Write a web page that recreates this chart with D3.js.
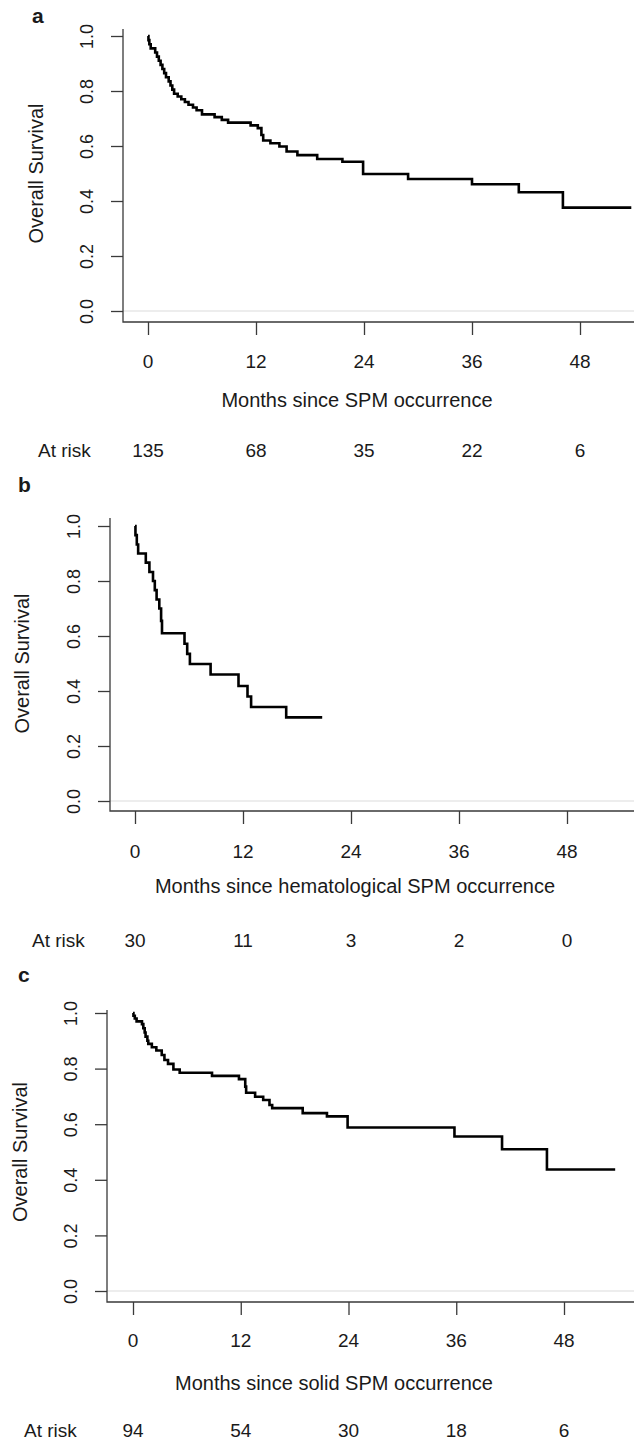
<!DOCTYPE html>
<html>
<head>
<meta charset="utf-8">
<script src="https://cdn.jsdelivr.net/npm/d3@7"></script>
<style>
  html, body { margin: 0; padding: 0; background: #fff; }
  svg { display: block; }
  text { font-family: "Liberation Sans", Arial, sans-serif; fill: #1a1a1a; }
</style>
</head>
<body>
<svg id="chart" width="634" height="1440"></svg>
<script>
// ---------------- DATA ----------------
const tickMonths = [0, 12, 24, 36, 48];
const survTicks = [0, 0.2, 0.4, 0.6, 0.8, 1.0];
const panelLetters = ["a", "b", "c"];
const yTitle = "Overall Survival";
const atRiskLabel = "At risk";
const xTitles = [
  "Months since SPM occurrence",
  "Months since hematological SPM occurrence",
  "Months since solid SPM occurrence"
];
const atRiskA = [135, 68, 35, 22, 6];
const atRiskB = [30, 11, 3, 2, 0];
const atRiskC = [94, 54, 30, 18, 6];

// Kaplan-Meier step points (month of step, survival after step); last entry = end of follow-up
const monthsA = [0, 0.05, 0.15, 0.3, 0.8, 1.0, 1.2, 1.4, 1.6, 1.8, 2.0, 2.3, 2.5, 2.7, 2.9, 3.3, 3.7, 4.1, 4.5, 5.0, 5.4, 6.0, 7.4, 8.2, 8.9, 11.4, 12.2, 12.6, 12.8, 13.6, 14.6, 15.4, 16.6, 18.8, 21.6, 23.9, 28.9, 36.0, 41.2, 46.1, 53.7];
const survA   = [1.0, 0.985, 0.97, 0.955, 0.94, 0.925, 0.91, 0.895, 0.88, 0.865, 0.85, 0.835, 0.82, 0.805, 0.79, 0.78, 0.77, 0.76, 0.75, 0.74, 0.73, 0.715, 0.705, 0.695, 0.685, 0.675, 0.665, 0.64, 0.62, 0.61, 0.598, 0.58, 0.567, 0.553, 0.543, 0.498, 0.48, 0.461, 0.432, 0.376, 0.376];

const monthsB = [0, 0.05, 0.2, 0.35, 1.2, 1.6, 2.0, 2.2, 2.4, 2.7, 2.9, 3.0, 5.5, 5.8, 6.1, 8.4, 11.5, 12.5, 12.9, 16.8, 20.8];
const survB   = [1.0, 0.967, 0.933, 0.90, 0.867, 0.833, 0.80, 0.767, 0.733, 0.70, 0.655, 0.61, 0.572, 0.535, 0.498, 0.46, 0.418, 0.38, 0.342, 0.304, 0.304];

const monthsC = [0, 0.05, 0.2, 0.4, 1.0, 1.15, 1.3, 1.4, 1.6, 1.7, 2.1, 2.6, 3.2, 3.5, 3.9, 4.5, 5.2, 8.8, 11.8, 12.5, 12.6, 13.6, 14.5, 15.2, 15.5, 18.9, 21.6, 23.9, 35.8, 41.1, 46.1, 53.7];
const survC   = [1.0, 0.99, 0.98, 0.97, 0.96, 0.945, 0.93, 0.915, 0.90, 0.889, 0.877, 0.865, 0.849, 0.831, 0.817, 0.797, 0.785, 0.774, 0.762, 0.735, 0.713, 0.699, 0.687, 0.669, 0.658, 0.64, 0.628, 0.588, 0.556, 0.51, 0.437, 0.437];

// ---------------- LAYOUT ----------------
const W = 634;
const layout = [
  {axisX:123, x0:148, x48:580, y1:36,   y0:311,  axisTop:29,   axisY:322,  letterX:32, letterY:23,  yTitleX:36, tickLabelY:368,  xTitleX:357, xTitleY:407,  riskY:457,  riskLabelX:38},
  {axisX:110, x0:135, x48:567, y1:526,  y0:801,  axisTop:518,  axisY:811,  letterX:18, letterY:492, yTitleX:22, tickLabelY:858,  xTitleX:355, xTitleY:893,  riskY:947,  riskLabelX:32},
  {axisX:107, x0:133, x48:564, y1:1013, y0:1291, axisTop:1010, axisY:1302, letterX:18, letterY:982, yTitleX:20, tickLabelY:1347, xTitleX:334, xTitleY:1390, riskY:1437, riskLabelX:24}
];
const series = [
  {months: monthsA, surv: survA, risk: atRiskA},
  {months: monthsB, surv: survB, risk: atRiskB},
  {months: monthsC, surv: survC, risk: atRiskC}
];

const svg = d3.select("#chart");

layout.forEach((L, i) => {
  const S = series[i];
  const x = d3.scaleLinear().domain([0, 48]).range([L.x0, L.x48]);
  const y = d3.scaleLinear().domain([0, 1]).range([L.y0, L.y1]);
  const g = svg.append("g");

  // light zero reference line
  g.append("line")
    .attr("x1", L.axisX).attr("x2", W)
    .attr("y1", y(0)).attr("y2", y(0))
    .attr("stroke", "#dcdcdc").attr("stroke-width", 1.2);

  // L-shaped box
  g.append("path")
    .attr("d", `M${L.axisX},${L.axisTop}V${L.axisY}H${W}`)
    .attr("fill", "none").attr("stroke", "#3a3a3a").attr("stroke-width", 1.3);

  // y axis ticks
  const yAx = g.append("g").attr("transform", `translate(${L.axisX},0)`)
    .call(d3.axisLeft(y).tickValues(survTicks).tickSizeInner(12).tickSizeOuter(0).tickFormat(d3.format(".1f")));
  yAx.select(".domain").remove();
  yAx.selectAll("line").attr("stroke", "#3a3a3a").attr("stroke-width", 1.3);
  yAx.selectAll("text")
    .attr("x", 0).attr("y", 0).attr("dy", "0.36em")
    .attr("text-anchor", "middle")
    .attr("transform", "translate(-36,0) rotate(-90)")
    .style("font-size", "18px")
    .style("font-family", "'Liberation Sans', Arial, sans-serif")
    .attr("fill", "#1a1a1a");

  // x axis ticks
  const xAx = g.append("g").attr("transform", `translate(0,${L.axisY})`)
    .call(d3.axisBottom(x).tickValues(tickMonths).tickSizeInner(13).tickSizeOuter(0).tickFormat(""));
  xAx.select(".domain").remove();
  xAx.selectAll("line").attr("stroke", "#3a3a3a").attr("stroke-width", 1.3);

  // x tick labels
  g.selectAll("text.xt").data(tickMonths).join("text")
    .attr("class", "xt")
    .attr("x", d => x(d)).attr("y", L.tickLabelY)
    .attr("text-anchor", "middle")
    .style("font-size", "19px")
    .text(d => d);

  // survival curve
  const pts = S.months.map((m, k) => [m, S.surv[k]]);
  g.append("path")
    .datum(pts)
    .attr("d", d3.line().x(d => x(d[0])).y(d => y(d[1])).curve(d3.curveStepAfter))
    .attr("fill", "none").attr("stroke", "#000").attr("stroke-width", 2.6)
    .attr("stroke-linejoin", "miter");

  // y title
  g.append("text")
    .attr("transform", `translate(${L.yTitleX},${y(0.5)}) rotate(-90)`)
    .attr("text-anchor", "middle").attr("dy", "0.36em")
    .style("font-size", "20px")
    .text(yTitle);

  // x title
  g.append("text")
    .attr("x", L.xTitleX).attr("y", L.xTitleY)
    .attr("text-anchor", "middle")
    .style("font-size", "20px")
    .text(xTitles[i]);

  // panel letter
  g.append("text")
    .attr("x", L.letterX).attr("y", L.letterY)
    .style("font-size", "21px").style("font-weight", "bold")
    .text(panelLetters[i]);

  // at risk row
  g.append("text")
    .attr("x", L.riskLabelX).attr("y", L.riskY)
    .style("font-size", "19px")
    .text(atRiskLabel);
  g.selectAll("text.risk").data(S.risk).join("text")
    .attr("class", "risk")
    .attr("x", (d, k) => x(tickMonths[k])).attr("y", L.riskY)
    .attr("text-anchor", "middle")
    .style("font-size", "19px")
    .text(d => d);
});
</script>
</body>
</html>
